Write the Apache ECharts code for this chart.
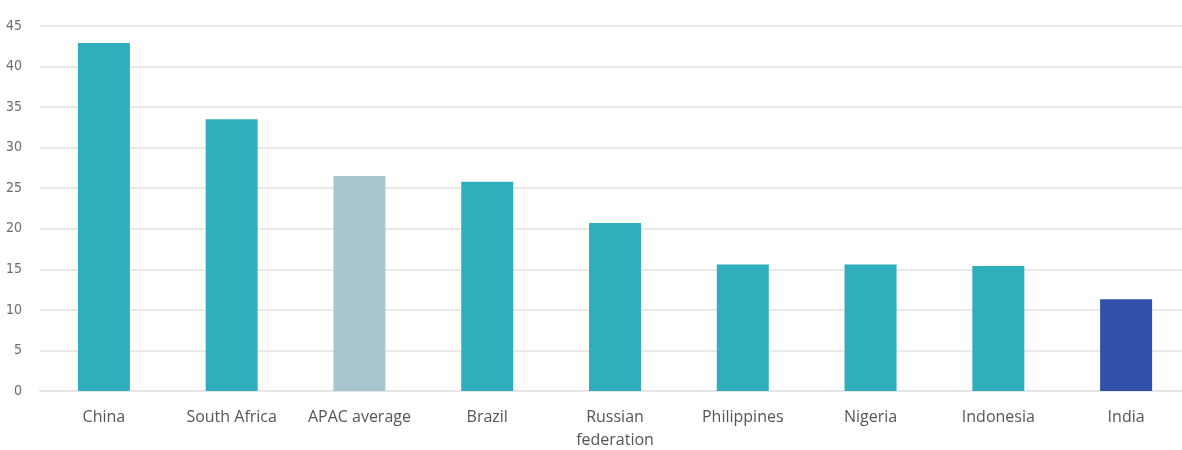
<!DOCTYPE html>
<html>
<head>
<meta charset="utf-8">
<script src="https://cdn.jsdelivr.net/npm/echarts@6/dist/echarts.min.js"></script>
<style>
html,body{margin:0;padding:0;background:#fff;}
#c{width:1182px;height:450px;}
</style>
</head>
<body>
<div id="c"></div>
<script>
const categories = ["China", "South Africa", "APAC average", "Brazil", "Russian\nfederation", "Philippines", "Nigeria", "Indonesia", "India"];
const values = [42.9, 33.5, 26.5, 25.8, 20.7, 15.6, 15.6, 15.4, 11.3];
const barColors = ["#2eafbb", "#2eafbb", "#a8c6cf", "#2eafbb", "#2eafbb", "#2eafbb", "#2eafbb", "#2eafbb", "#3152a8"];
const yTicks = { min: 0, max: 45, interval: 5 };

const chart = echarts.init(document.getElementById('c'));
chart.setOption({
  animation: false,
  grid: { left: 40, right: -8, top: 26, bottom: 59, outerBoundsMode: 'none', containLabel: false },
  xAxis: {
    type: 'category',
    data: categories,
    axisLine: { show: true, lineStyle: { color: '#e6e6e6', width: 2 } },
    axisTick: { show: false },
    axisLabel: { color: '#555', fontSize: 16, fontFamily: 'Open Sans', margin: 15, lineHeight: 23, interval: 0 }
  },
  yAxis: {
    type: 'value',
    min: yTicks.min, max: yTicks.max, interval: yTicks.interval,
    axisLine: { show: false },
    axisTick: { show: false },
    splitLine: { lineStyle: { color: '#e9e9e9', width: 2 } },
    axisLabel: { color: '#6a6a7a', fontSize: 14, fontFamily: 'DejaVu Sans Condensed, sans-serif', margin: 18, align: 'right' }
  },
  series: [{
    type: 'bar',
    data: values.map((v, i) => ({ value: v, itemStyle: { color: barColors[i] } })),
    barWidth: 52
  }]
});
</script>
</body>
</html>
